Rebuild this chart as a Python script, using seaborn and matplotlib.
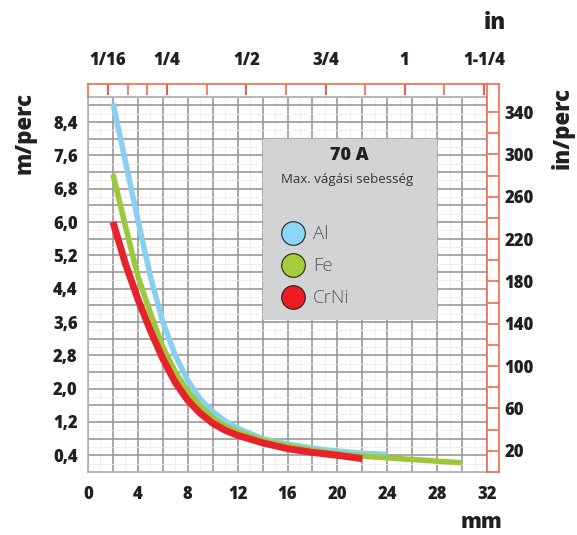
import matplotlib.pyplot as plt
import numpy as np
import pandas as pd
import seaborn as sns
from matplotlib.lines import Line2D
from matplotlib.patches import Rectangle

MM_PER_IN = 25.4
IN_PER_M = 39.37

# cutting speed curves, thickness in mm -> speed in m/perc
al_mm = [2, 3, 4, 5, 6, 7, 8, 9, 10, 11, 12, 14, 16, 18, 20, 22, 24]
al_speed = [8.85, 7.45, 6.05, 4.7, 3.6, 2.8, 2.2, 1.75, 1.45, 1.22, 1.05, 0.8, 0.67, 0.57, 0.5, 0.45, 0.42]

fe_mm = [2, 3, 4, 5, 6, 7, 8, 9, 10, 11, 12, 14, 16, 18, 20, 22, 24, 26, 28, 30]
fe_speed = [7.15, 5.9, 4.7, 3.82, 3.0, 2.4, 1.94, 1.58, 1.3, 1.1, 0.97, 0.76, 0.63, 0.52, 0.44, 0.38, 0.34, 0.3, 0.26, 0.22]

crni_mm = [2, 3, 4, 5, 6, 7, 8, 9, 10, 11, 12, 14, 16, 18, 20, 22]
crni_speed = [6.0, 5.0, 4.15, 3.4, 2.72, 2.15, 1.72, 1.41, 1.17, 1.0, 0.88, 0.7, 0.56, 0.47, 0.4, 0.32]

materials = ["Al", "Fe", "CrNi"]
line_colors = {"Al": "#88d0f0", "Fe": "#9cc93b", "CrNi": "#e8222a"}
dot_colors = {"Al": "#8ed6f5", "Fe": "#a4cd39", "CrNi": "#ed1c24"}
line_widths = {"Al": 4.0, "Fe": 4.0, "CrNi": 5.0}

x_ticks = list(range(0, 33, 2))
x_tick_labels = [str(v) if v % 4 == 0 else "" for v in x_ticks]
y_ticks = [round(0.4 * i, 1) for i in range(1, 23)]
y_tick_labels = [f"{v:.1f}".replace(".", ",") if i % 2 == 0 else "" for i, v in enumerate(y_ticks)]
in_ticks = [1 / 16, 1 / 4, 1 / 2, 3 / 4, 1, 1.25]
in_tick_labels = ["1/16", "1/4", "1/2", "3/4", "1", "1-1/4"]
in_minor_ticks = [1 / 8, 3 / 16, 3 / 8, 5 / 8, 7 / 8, 9 / 8]
ipm_ticks = list(range(20, 341, 20))
ipm_tick_labels = [str(v) if v % 40 == 20 else "" for v in ipm_ticks]

X_MAX = 32
Y_MAX = 9.0
TEXT = "#231f20"
RULER = "#f26a4b"
HEAVY = "heavy"

sns.set_theme(style="white")
plt.rcParams["font.family"] = ["Open Sans", "DejaVu Sans"]

frames = []
for name, xs, ys in [("Al", al_mm, al_speed), ("Fe", fe_mm, fe_speed), ("CrNi", crni_mm, crni_speed)]:
    frames.append(pd.DataFrame({"mm": xs, "speed": ys, "material": name}))
data = pd.concat(frames, ignore_index=True)

W_PX, H_PX = 577, 535
left, right, top, bottom = 88, 487, 97, 472
ruler_top, ruler_right = 84, 499

fig = plt.figure(figsize=(W_PX / 100, H_PX / 100), dpi=100)
ax_w = (right - left) / W_PX
ax_h = (bottom - top) / H_PX
ax = fig.add_axes([left / W_PX, 1 - bottom / H_PX, ax_w, ax_h])

for name in materials:
    sns.lineplot(
        data=data[data["material"] == name],
        x="mm",
        y="speed",
        color=line_colors[name],
        linewidth=line_widths[name],
        ax=ax,
        legend=False,
        zorder=4,
        solid_capstyle="butt",
        solid_joinstyle="round",
    )

ax.set_xlim(0, X_MAX)
ax.set_ylim(0, Y_MAX)
ax.set_xlabel("")
ax.set_ylabel("")
ax.set_xticks(x_ticks, x_tick_labels)
ax.set_yticks(y_ticks, y_tick_labels)
ax.set_xticks(np.arange(0, X_MAX + 0.1, 1), minor=True)
ax.set_yticks(np.arange(0, Y_MAX + 0.01, 0.2), minor=True)
ax.tick_params(axis="x", which="major", length=0, pad=10, labelsize=12, labelcolor=TEXT)
ax.tick_params(axis="y", which="major", length=4.5, width=1, color="#a0a0a0", pad=3, labelsize=12, labelcolor=TEXT)
ax.tick_params(which="minor", length=0)
for label in ax.get_xticklabels() + ax.get_yticklabels():
    label.set_fontweight(HEAVY)
ax.grid(which="major", color="#999999", linewidth=1.2)
ax.grid(which="minor", color="#ececec", linewidth=0.6)
ax.set_axisbelow(True)
for side in ["left", "bottom", "top"]:
    ax.spines[side].set_color("#b0b0b0")
ax.spines["right"].set_visible(False)

# legend panel
ax.add_patch(Rectangle((14.0, 3.65), 14.0, 4.35, facecolor="#d1d3d4", edgecolor="none", zorder=3))
ax.text(21.0, 7.59, "70 A", ha="center", va="center", fontsize=13, fontweight=HEAVY, color=TEXT, zorder=5)
ax.text(20.8, 7.03, "Max. vágási sebesség", ha="center", va="center", fontsize=9.5, color="#333333", zorder=5)
handles = [
    Line2D([], [], linestyle="none", marker="o", markersize=17, markerfacecolor=dot_colors[m],
           markeredgecolor="#222222", markeredgewidth=0.8, label=m)
    for m in materials
]
leg = ax.legend(
    handles=handles,
    loc="center left",
    bbox_to_anchor=(14.79, 4.94),
    bbox_transform=ax.transData,
    frameon=False,
    fontsize=13.5,
    handlelength=1.4,
    handletextpad=0.37,
    labelspacing=0.75,
    borderpad=0.4,
    borderaxespad=0,
)
for text in leg.get_texts():
    text.set_color("#58595b")
    text.set_fontweight("light")

# inch ruler on top
ruler_h = (top - ruler_top) / H_PX
ax_top = fig.add_axes([left / W_PX, 1 - top / H_PX, ax_w, ruler_h])
ax_top.set_xlim(0, X_MAX / MM_PER_IN)
ax_top.set_ylim(0, 1)
ax_top.patch.set_alpha(0)
ax_top.xaxis.tick_top()
ax_top.set_xticks(in_ticks, in_tick_labels)
ax_top.set_xticks(in_minor_ticks, minor=True)
ax_top.tick_params(axis="x", which="both", direction="in", length=8, width=1.2, color=RULER)
ax_top.tick_params(axis="x", which="major", color="#ee3a2e", pad=11, labelsize=12, labelcolor=TEXT)
ax_top.set_yticks([])
for label in ax_top.get_xticklabels():
    label.set_fontweight(HEAVY)
for side in ["top", "left"]:
    ax_top.spines[side].set_color(RULER)
    ax_top.spines[side].set_linewidth(1.2)
for side in ["bottom", "right"]:
    ax_top.spines[side].set_visible(False)

# in/perc ruler on the right
side_w = (ruler_right - right) / W_PX
side_h = (bottom - ruler_top) / H_PX
ax_side = fig.add_axes([right / W_PX, 1 - bottom / H_PX, side_w, side_h])
ax_side.set_xlim(0, 1)
ax_side.set_ylim(0, Y_MAX * IN_PER_M * (bottom - ruler_top) / (bottom - top))
ax_side.patch.set_alpha(0)
ax_side.yaxis.tick_right()
ax_side.set_yticks(ipm_ticks, ipm_tick_labels)
ax_side.tick_params(axis="y", direction="in", length=8, width=1.2, color=RULER, pad=4, labelsize=12, labelcolor=TEXT)
ax_side.set_xticks([])
for label in ax_side.get_yticklabels():
    label.set_fontweight(HEAVY)
for side in ["top", "left", "right", "bottom"]:
    ax_side.spines[side].set_color(RULER)
    ax_side.spines[side].set_linewidth(1.2)

# axis titles
fig.text(25 / W_PX, 1 - 133 / H_PX, "m/perc", rotation=90, ha="center", va="center",
         fontsize=16, fontweight=HEAVY, color=TEXT)
fig.text(563 / W_PX, 1 - 128 / H_PX, "in/perc", rotation=90, ha="center", va="center",
         fontsize=16, fontweight=HEAVY, color=TEXT)
fig.text(495 / W_PX, 1 - 23 / H_PX, "in", ha="center", va="center",
         fontsize=16, fontweight=HEAVY, color=TEXT)
fig.text(482 / W_PX, 1 - 523 / H_PX, "mm", ha="center", va="center",
         fontsize=15, fontweight=HEAVY, color=TEXT)

fig.savefig("out.png", dpi=100)
